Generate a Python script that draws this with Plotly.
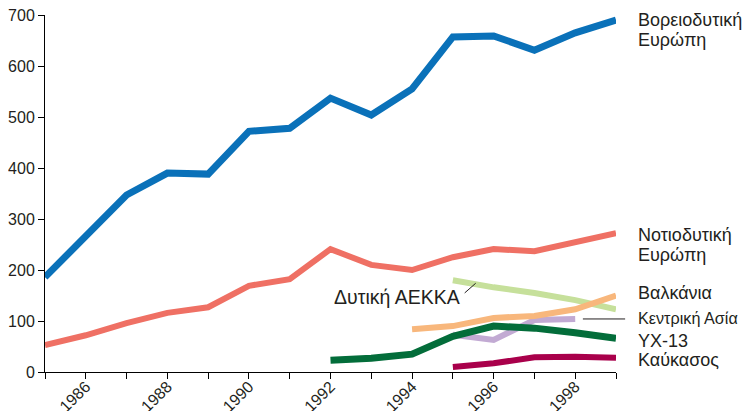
import plotly.graph_objects as go

# Years on the x axis
years = list(range(1985, 2000))
tick_labels = [str(y) if y % 2 == 0 else "" for y in years]

# Series values; None where a series has no data
nw_europe = [186, 267, 347, 390, 388, 472, 478, 537, 504, 555, 657, 659, 631, 665, 690]
sw_europe = [53, 72, 96, 116, 127, 169, 182, 241, 210, 200, 225, 241, 237, 255, 272]
west_cis = [None] * 10 + [180, 166, 155, 141, 123]
balkans = [None] * 9 + [84, 90, 106, 110, 123, 150]
central_asia = [None] * 10 + [73, 63, 102, 104, None]
yx13 = [None] * 7 + [23, 27, 35, 70, 90, 86, 77, 66]
caucasus = [None] * 10 + [10, 17, 29, 30, 28]

series = [
    ("Βορειοδυτική Ευρώπη", nw_europe, "#0a71b9", 7),
    ("Νοτιοδυτική Ευρώπη", sw_europe, "#ef7064", 6),
    ("Δυτική ΑΕΚΚΑ", west_cis, "#c6e09b", 6),
    ("Κεντρική Ασία", central_asia, "#c2aad3", 6),
    ("Βαλκάνια", balkans, "#f8b77c", 6),
    ("YX-13", yx13, "#036d3a", 7),
    ("Καύκασος", caucasus, "#a9004b", 6),
]

# Right-hand label lines, the y value each sits at, and font size
right_labels = [
    ("Βορειοδυτική", 690, 18),
    ("Ευρώπη", 651, 18),
    ("Νοτιοδυτική", 269, 18),
    ("Ευρώπη", 229, 18),
    ("Βαλκάνια", 155, 18),
    ("Κεντρική Ασία", 106, 16.2),
    ("YX-13", 60, 18),
    ("Καύκασος", 23, 18),
]

FONT = "Liberation Sans, Arial, sans-serif"
TEXT = "#231f20"

fig = go.Figure()
for name, vals, color, width in series:
    fig.add_trace(
        go.Scatter(
            x=years,
            y=vals,
            name=name,
            mode="lines",
            line=dict(color=color, width=width),
            connectgaps=False,
            hoverinfo="skip",
        )
    )

for text, yv, size in right_labels:
    fig.add_annotation(
        x=1.035, xref="paper", y=yv, yref="y",
        text=text, showarrow=False, xanchor="left", yanchor="middle",
        align="left", font=dict(size=size, color=TEXT, family=FONT),
    )

# label inside the plot for the light green series
fig.add_annotation(
    x=1995.22, y=147, xref="x", yref="y",
    text="Δυτική ΑΕΚΚΑ", showarrow=False, xanchor="right", yanchor="middle",
    font=dict(size=19.5, color=TEXT, family=FONT),
)
fig.add_shape(
    type="line", xref="x", yref="y",
    x0=1995.29, y0=155, x1=1995.56, y1=174,
    line=dict(color=TEXT, width=1),
)
# leader line for Central Asia
fig.add_shape(
    type="line", xref="paper", yref="paper",
    x0=0.942, y0=104 / 700, x1=1.016, y1=104 / 700,
    line=dict(color=TEXT, width=1),
)

# page body has an 8px margin, so the figure is shrunk to fit the window
fig.update_layout(
    width=744,
    height=403,
    margin=dict(l=37, r=136, t=7, b=39),
    plot_bgcolor="white",
    paper_bgcolor="white",
    showlegend=False,
    font=dict(family=FONT, color=TEXT, size=16),
)
fig.update_xaxes(
    range=[1985, 1999],
    tickvals=years,
    ticktext=tick_labels,
    tickangle=-45,
    ticks="outside",
    ticklen=6,
    tickcolor="black",
    showline=True,
    linecolor="black",
    linewidth=1,
    showgrid=False,
    zeroline=False,
    automargin=False,
    ticklabeloverflow="allow",
    ticklabelstandoff=-8,
    tickfont=dict(size=16, color=TEXT),
)
fig.update_yaxes(
    range=[0, 700],
    dtick=100,
    ticks="outside",
    ticklen=6,
    tickcolor="black",
    showline=True,
    linecolor="black",
    linewidth=1,
    showgrid=False,
    zeroline=False,
    automargin=False,
    ticklabeloverflow="allow",
    tickfont=dict(size=16, color=TEXT),
)

fig.write_html("out.html")
